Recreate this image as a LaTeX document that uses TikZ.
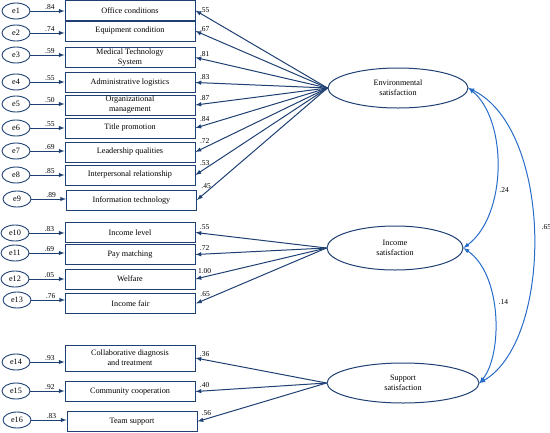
\documentclass[tikz,border=0pt]{standalone}
\usepackage{fontspec}
\setmainfont{Liberation Serif}
\usetikzlibrary{arrows,shapes.geometric}
\definecolor{semnavy}{RGB}{31,64,115}
\definecolor{semblue}{RGB}{38,108,200}

\begin{document}
\begin{tikzpicture}[x=1pt,y=-1pt,
  font=\fontsize{8.2}{10}\selectfont,
  obsbox/.style={draw=semnavy,line width=0.9pt,minimum width=130pt,minimum height=20pt,inner sep=1pt,align=center},
  errell/.style={draw=semnavy,line width=0.9pt,ellipse,minimum width=28pt,minimum height=16pt,inner sep=0pt},
  latent/.style={draw=semnavy,line width=1pt,ellipse,minimum width=140pt,minimum height=40pt,inner sep=0pt,align=center},
  load/.style={draw=semnavy,line width=1pt,-latex},
  cov/.style={draw=semblue,line width=1pt,latex-latex},
  coef/.style={font=\fontsize{7.5}{8}\selectfont,inner sep=1pt}]
\useasboundingbox (0,0) rectangle (550,432);
\node[obsbox] (b1) at (130,10.5) {Office conditions};
\node[obsbox] (b2) at (130,31) {Equipment condition};
\node[obsbox] (b3) at (130,57.5) {Medical Technology\\System};
\node[obsbox] (b4) at (130,82.5) {Administrative logistics};
\node[obsbox] (b5) at (130,105) {Organizational\\management};
\node[obsbox] (b6) at (130,128) {Title promotion};
\node[obsbox] (b7) at (130,152) {Leadership qualities};
\node[obsbox] (b8) at (130,175) {Interpersonal relationship};
\node[obsbox] (b9) at (131.5,200) {Information technology};
\node[obsbox] (b10) at (130,232.5) {Income level};
\node[obsbox] (b11) at (130,254.5) {Pay matching};
\node[obsbox] (b12) at (130,279) {Welfare};
\node[obsbox] (b13) at (130.5,303.5) {Income fair};
\node[obsbox,minimum height=26pt] (b14) at (130,358) {Collaborative diagnosis\\and treatment};
\node[obsbox] (b15) at (130,391.5) {Community cooperation};
\node[obsbox] (b16) at (132,421.5) {Team support};
\node[errell] (e1) at (16,11) {e1};
\node[errell] (e2) at (16,33) {e2};
\node[errell] (e3) at (16,55) {e3};
\node[errell] (e4) at (16,82) {e4};
\node[errell] (e5) at (16,104) {e5};
\node[errell] (e6) at (16,128) {e6};
\node[errell] (e7) at (16,151) {e7};
\node[errell] (e8) at (16,175) {e8};
\node[errell] (e9) at (17,199) {e9};
\node[errell] (e10) at (15,233) {e10};
\node[errell] (e11) at (15,253) {e11};
\node[errell] (e12) at (15,279) {e12};
\node[errell] (e13) at (17,300) {e13};
\node[errell] (e14) at (16,362) {e14};
\node[errell] (e15) at (16,391) {e15};
\node[errell] (e16) at (17,420) {e16};
\node[latent] (env) at (398,88) {Environmental\\satisfaction};
\node[latent,minimum width=136pt,minimum height=44pt] (inc) at (395,248) {Income\\satisfaction};
\node[latent,minimum width=152pt] (sup) at (403,383) {Support\\satisfaction};
\draw[load] (e1) -- (b1.west |- e1) node[coef,pos=0.57,above] {.84};
\draw[load] (e2) -- (b2.west |- e2) node[coef,pos=0.57,above] {.74};
\draw[load] (e3) -- (b3.west |- e3) node[coef,pos=0.57,above] {.59};
\draw[load] (e4) -- (b4.west |- e4) node[coef,pos=0.57,above] {.55};
\draw[load] (e5) -- (b5.west |- e5) node[coef,pos=0.57,above] {.50};
\draw[load] (e6) -- (b6.west |- e6) node[coef,pos=0.57,above] {.55};
\draw[load] (e7) -- (b7.west |- e7) node[coef,pos=0.57,above] {.69};
\draw[load] (e8) -- (b8.west |- e8) node[coef,pos=0.57,above] {.85};
\draw[load] (e9) -- (b9.west |- e9) node[coef,pos=0.57,above] {.89};
\draw[load] (e10) -- (b10.west |- e10) node[coef,pos=0.57,above] {.83};
\draw[load] (e11) -- (b11.west |- e11) node[coef,pos=0.57,above] {.69};
\draw[load] (e12) -- (b12.west |- e12) node[coef,pos=0.57,above] {.05};
\draw[load] (e13) -- (b13.west |- e13) node[coef,pos=0.57,above] {.76};
\draw[load] (e14) -- (b14.west |- e14) node[coef,pos=0.57,above] {.93};
\draw[load] (e15) -- (b15.west |- e15) node[coef,pos=0.57,above] {.92};
\draw[load] (e16) -- (b16.west |- e16) node[coef,pos=0.57,above] {.83};
\draw[load] (env.west) -- (b1.east) node[coef,pos=0.93,above,yshift=2pt] {.55};
\draw[load] (env.west) -- (b2.east) node[coef,pos=0.93,above,yshift=2pt] {.67};
\draw[load] (env.west) -- (b3.east) node[coef,pos=0.93,above,yshift=2pt] {.81};
\draw[load] (env.west) -- (b4.east) node[coef,pos=0.93,above,yshift=2pt] {.83};
\draw[load] (env.west) -- (b5.east) node[coef,pos=0.93,above,yshift=2pt] {.87};
\draw[load] (env.west) -- (b6.east) node[coef,pos=0.93,above,yshift=2pt] {.84};
\draw[load] (env.west) -- (b7.east) node[coef,pos=0.93,above,yshift=2pt] {.72};
\draw[load] (env.west) -- (b8.east) node[coef,pos=0.93,above,yshift=2pt] {.53};
\draw[load] (env.west) -- (b9.east) node[coef,pos=0.93,above,yshift=2pt] {.45};
\draw[load] (inc.west) -- (b10.east) node[coef,pos=0.93,above,yshift=2pt] {.55};
\draw[load] (inc.west) -- (b11.east) node[coef,pos=0.93,above,yshift=2pt] {.72};
\draw[load] (inc.west) -- (b12.east) node[coef,pos=0.93,above,yshift=2pt] {1.00};
\draw[load] (inc.west) -- (b13.east) node[coef,pos=0.93,above,yshift=2pt] {.65};
\draw[load] (sup.west) -- (b14.east) node[coef,pos=0.93,above,yshift=2pt] {.36};
\draw[load] (sup.west) -- (b15.east) node[coef,pos=0.93,above,yshift=2pt] {.40};
\draw[load] (sup.west) -- (b16.east) node[coef,pos=0.93,above,yshift=2pt] {.56};
\draw[cov] (env.east) .. controls +(39,32) and +(44,-33) .. (inc.east) node[coef,pos=0.62,right=3pt] {.24};
\draw[cov] (inc.east) .. controls +(39,27) and +(23,-28) .. (sup.east) node[coef,pos=0.42,right=4pt] {.14};
\draw[cov] (env.east) .. controls +(85,42) and +(74,-43) .. (sup.east) node[coef,pos=0.48,right=7pt] {.65};
\end{tikzpicture}
\end{document}
